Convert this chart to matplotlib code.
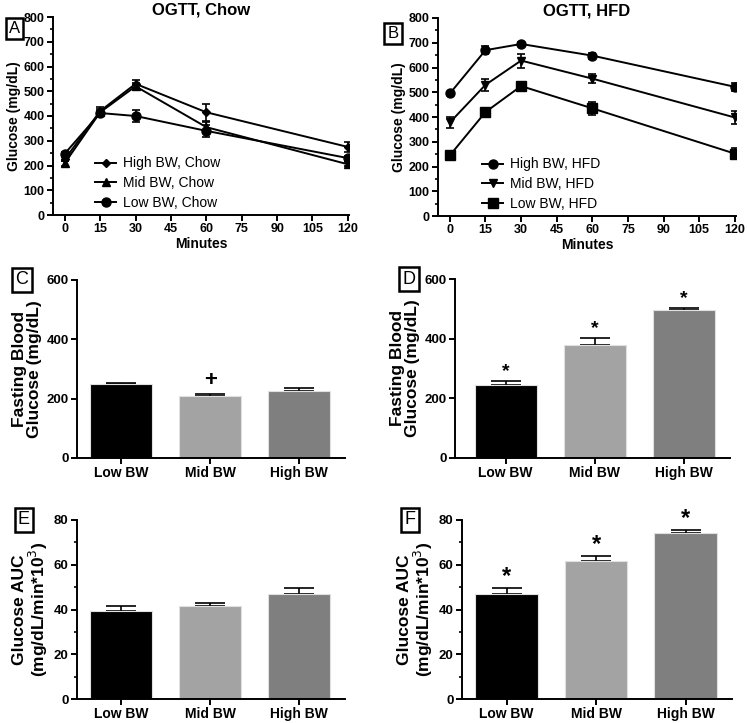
import numpy as np
import matplotlib
matplotlib.use("Agg")
import matplotlib.pyplot as plt
from matplotlib.ticker import MultipleLocator

plt.rcParams['font.family'] = ['Liberation Sans', 'DejaVu Sans']

# OGTT time points (minutes)
minutes = [0, 15, 30, 60, 120]

# panel A, chow
chow_high = [225, 420, 530, 415, 275]
chow_high_err = [8, 15, 15, 35, 20]
chow_mid = [210, 415, 520, 355, 205]
chow_mid_err = [10, 12, 15, 20, 8]
chow_low = [248, 412, 400, 340, 230]
chow_low_err = [8, 10, 25, 25, 10]

# panel B, HFD
hfd_high = [495, 670, 695, 648, 522]
hfd_high_err = [8, 15, 8, 12, 15]
hfd_mid = [378, 530, 628, 555, 398]
hfd_mid_err = [22, 25, 28, 18, 25]
hfd_low = [245, 420, 525, 435, 252]
hfd_low_err = [8, 10, 18, 25, 22]

groups = ["Low BW", "Mid BW", "High BW"]
bar_colors = ["#000000", "#a3a3a3", "#7f7f7f"]

fbg_chow = [250, 210, 225]
fbg_chow_err = [3, 5, 10]
fbg_hfd = [245, 378, 497]
fbg_hfd_err = [12, 25, 5]

auc_chow = [39.5, 41.5, 47.0]
auc_chow_err = [2.0, 1.5, 2.5]
auc_hfd = [47.0, 61.5, 74.0]
auc_hfd_err = [2.5, 2.5, 1.5]

W, H = 747, 723
fig = plt.figure(figsize=(W / 100, H / 100), dpi=100)


def add_ax(left, top, right, bottom):
    return fig.add_axes([left / W, 1 - bottom / H, (right - left) / W, (bottom - top) / H])


def style(ax, fs=9):
    for s in ["top", "right"]:
        ax.spines[s].set_visible(False)
    for s in ["left", "bottom"]:
        ax.spines[s].set_linewidth(1.4)
    ax.tick_params(width=1.4, length=4, labelsize=fs, pad=2)
    ax.tick_params(which="minor", width=1.2, length=2.5)
    for lab in ax.get_xticklabels() + ax.get_yticklabels():
        lab.set_fontweight("bold")


def letter(ax, txt, x, y, fs=12):
    ax.text(x, y, txt, transform=ax.transAxes, fontsize=fs, ha="center", va="center",
            bbox=dict(boxstyle="square,pad=0.18", fc="white", ec="black", lw=1.8))


def line_panel(ax, series, title, leg_x):
    for vals, errs, mk, ms, name in series:
        ax.errorbar(minutes, vals, yerr=errs, fmt="none", ecolor="black",
                    elinewidth=1.2, capsize=3, capthick=1.2)
        ax.plot(minutes, vals, color="black", marker=mk, ms=ms, lw=1.4, label=name)
    ax.set_xlim(-5, 120.5)
    ax.set_ylim(0, 800)
    ax.set_xticks(range(0, 121, 15))
    ax.set_yticks(range(0, 801, 100))
    ax.yaxis.set_minor_locator(MultipleLocator(50))
    ax.set_xlabel("Minutes", fontsize=10, fontweight="bold", labelpad=1)
    ax.set_ylabel("Glucose (mg/dL)", fontsize=10, fontweight="bold", labelpad=2)
    ax.set_title(title, fontsize=12, fontweight="bold", pad=2)
    style(ax, fs=9)
    ax.legend(loc="lower left", bbox_to_anchor=(leg_x, -0.01), frameon=False, fontsize=10,
              handlelength=1.5, handletextpad=0.5, labelspacing=0.42, borderpad=0)


def bar_panel(ax, vals, errs, ylim, step, ylabel, marks, mark_off, mfs, minor=None):
    x = np.arange(len(groups))
    ax.bar(x, vals, width=0.7, color=bar_colors, edgecolor="#e0e0e0", linewidth=0.8, zorder=2)
    ax.errorbar(x, vals, yerr=[np.zeros(len(vals)), errs], fmt="none", ecolor="black",
                elinewidth=1.2, capsize=11, capthick=1.2, zorder=1)
    ax.set_xlim(-0.5, 2.52)
    ax.set_ylim(0, ylim)
    ax.set_yticks(np.arange(0, ylim + 1, step))
    if minor:
        ax.yaxis.set_minor_locator(MultipleLocator(minor))
    ax.set_xticks(x)
    ax.set_xticklabels(groups)
    ax.set_ylabel(ylabel, fontsize=12.5, fontweight="bold", labelpad=3, linespacing=1.0)
    style(ax, fs=9.5)
    ax.tick_params(axis="x", labelsize=10)
    for xi, v, e, m in zip(x, vals, errs, marks):
        if m:
            ax.text(xi, v + e + mark_off, m, ha="center", va="bottom", fontsize=mfs,
                    fontweight="bold")


axA = add_ax(53, 17, 349, 215)
line_panel(axA, [(chow_high, chow_high_err, "D", 4.5, "High BW, Chow"),
                 (chow_mid, chow_mid_err, "^", 6, "Mid BW, Chow"),
                 (chow_low, chow_low_err, "o", 6.5, "Low BW, Chow")], "OGTT, Chow", 0.12)
letter(axA, "A", -0.13, 0.944)

axB = add_ax(438, 18, 736, 216)
line_panel(axB, [(hfd_high, hfd_high_err, "o", 6.5, "High BW, HFD"),
                 (hfd_mid, hfd_mid_err, "v", 6, "Mid BW, HFD"),
                 (hfd_low, hfd_low_err, "s", 6.5, "Low BW, HFD")], "OGTT, HFD", 0.125)
letter(axB, "B", -0.151, 0.924)

axC = add_ax(77, 280, 345, 458)
bar_panel(axC, fbg_chow, fbg_chow_err, 600, 200, "Fasting Blood\nGlucose (mg/dL)",
          ["", "+", ""], 12, 16)
letter(axC, "C", -0.205, 1.0, fs=13)

axD = add_ax(455, 279, 730, 458)
bar_panel(axD, fbg_hfd, fbg_hfd_err, 600, 200, "Fasting Blood\nGlucose (mg/dL)",
          ["*", "*", "*"], 3, 14)
axD.set_xlim(-0.57, 2.52)
letter(axD, "D", -0.167, 1.0, fs=13)

axE = add_ax(77, 520, 345, 699)
bar_panel(axE, auc_chow, auc_chow_err, 80, 20, "Glucose AUC\n(mg/dL/min*10$^3$)",
          ["", "", ""], 0, 13, minor=10)
letter(axE, "E", -0.198, 1.0, fs=13)

axF = add_ax(462, 520, 732, 699)
bar_panel(axF, auc_hfd, auc_hfd_err, 80, 20, "Glucose AUC\n(mg/dL/min*10$^3$)",
          ["*", "*", "*"], 0, 17, minor=10)
letter(axF, "F", -0.193, 1.0, fs=13)

fig.savefig("out.png", dpi=100)
